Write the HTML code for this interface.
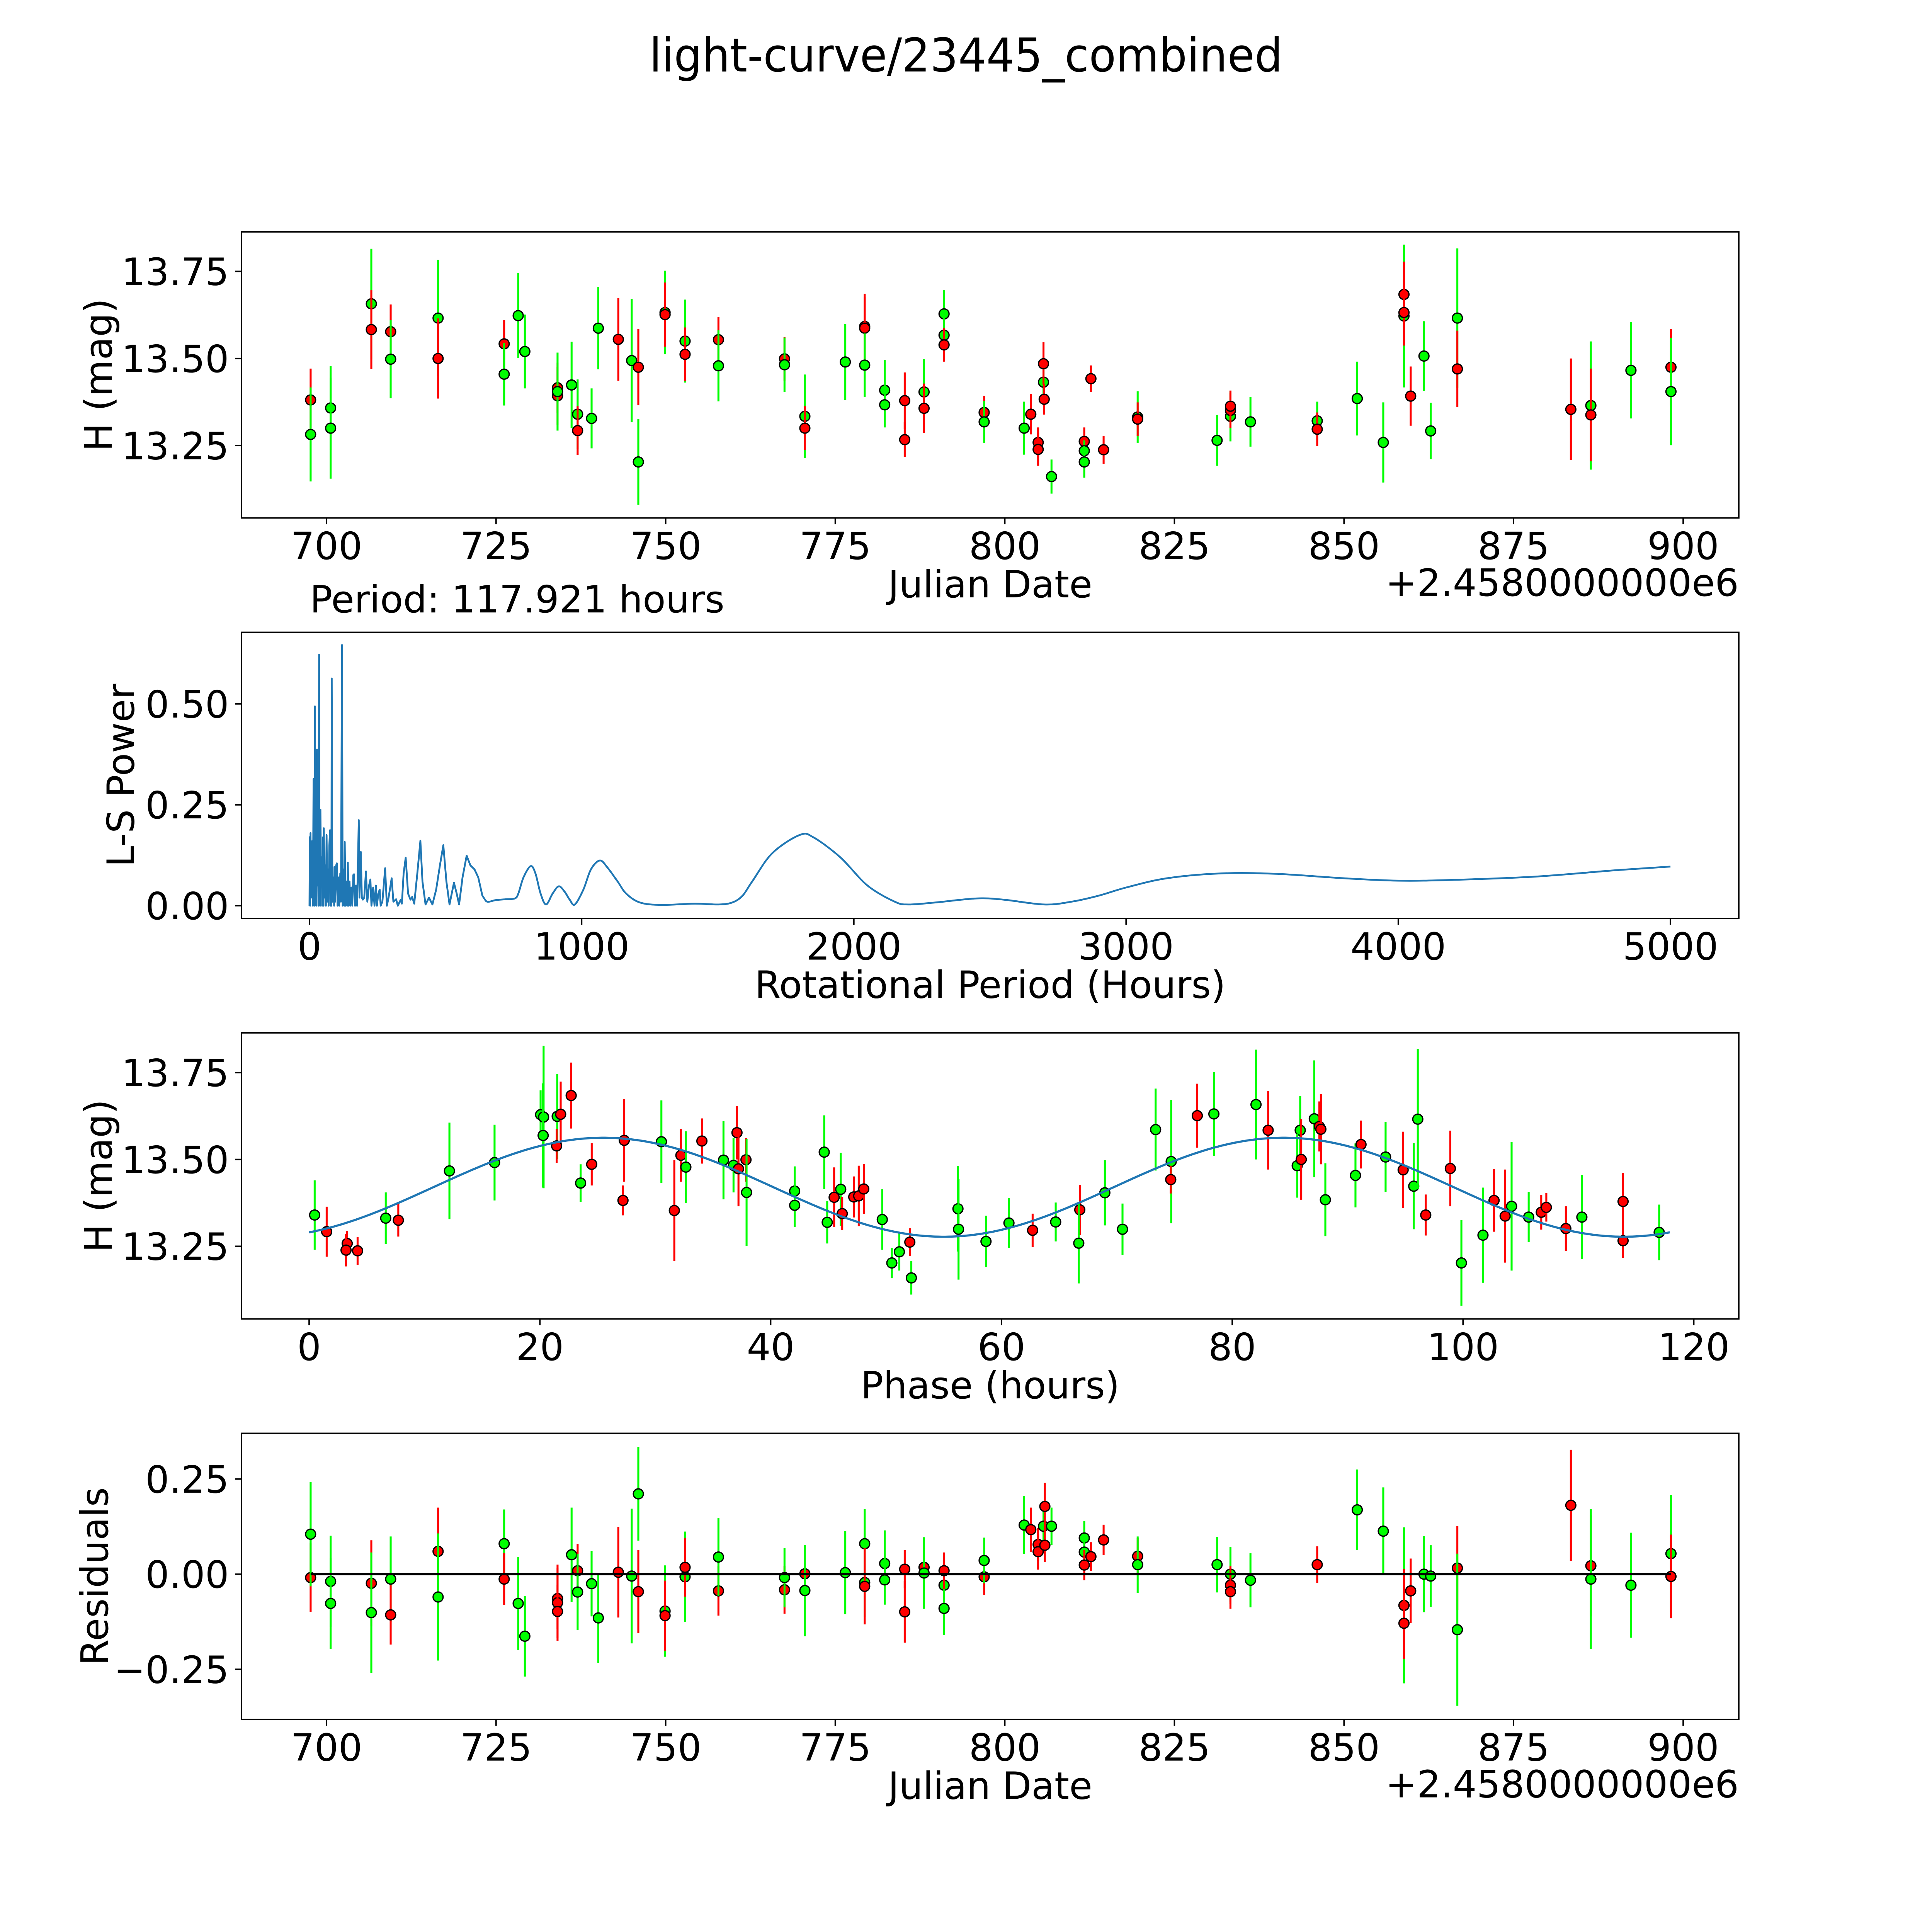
<!DOCTYPE html>
<html><head><meta charset="utf-8"><title>light-curve/23445_combined</title>
<style>html,body{margin:0;padding:0;background:#fff;overflow:hidden;width:100%;height:100%}svg{display:block;width:100vw;height:100vh}text{font-family:"DejaVu Sans","Liberation Sans",sans-serif;fill:#000}</style>
</head><body>
<svg id="fig" xmlns="http://www.w3.org/2000/svg" viewBox="0 0 5400 5400" preserveAspectRatio="none">
<rect width="5400" height="5400" fill="#fff"/>
<text x="2700" y="200" font-size="130" text-anchor="middle" textLength="1770" lengthAdjust="spacingAndGlyphs">light-curve/23445_combined</text>
</svg>
<script>
// ---------- data: light curve ----------
const lcDate=[697.66,697.66,700.61,700.61,706.61,706.61,709.46,709.46,716.45,716.45,726.19,726.19,728.26,729.24,734.06,734.06,734.06,736.13,737.02,737.02,739.08,740.07,743.02,744.99,745.97,745.97,749.91,749.91,752.86,752.86,757.78,757.78,767.52,767.52,770.52,770.52,776.48,779.34,779.34,779.34,782.29,782.29,785.24,785.24,788.09,788.09,791.04,791.04,791.04,796.95,796.95,802.85,803.83,804.91,804.91,805.70,805.70,805.80,806.88,811.71,811.71,811.71,812.69,814.56,819.58,819.58,831.29,833.26,833.26,833.26,836.21,846.05,846.05,851.95,855.79,858.84,858.84,858.84,859.83,861.79,862.78,866.71,866.71,883.44,886.39,886.39,892.30,898.20,898.20];
const lcMag=[13.381,13.282,13.358,13.300,13.657,13.583,13.577,13.498,13.616,13.500,13.542,13.455,13.623,13.520,13.416,13.393,13.405,13.424,13.340,13.293,13.328,13.587,13.555,13.494,13.475,13.203,13.632,13.626,13.550,13.512,13.554,13.479,13.499,13.482,13.334,13.300,13.490,13.592,13.587,13.481,13.409,13.367,13.379,13.267,13.404,13.357,13.628,13.567,13.539,13.345,13.318,13.300,13.340,13.259,13.239,13.432,13.485,13.383,13.161,13.262,13.235,13.203,13.442,13.238,13.332,13.326,13.265,13.334,13.351,13.363,13.318,13.321,13.297,13.385,13.259,13.622,13.684,13.632,13.392,13.507,13.292,13.616,13.470,13.354,13.365,13.338,13.466,13.475,13.405];
const lcErr=[.09,.135,.12,.145,.158,.113,.078,.112,.167,.115,.068,.09,.122,.106,.072,.083,.112,.124,.1,.07,.086,.118,.119,.177,.109,.123,.12,.092,.119,.077,.065,.102,.063,.078,.12,.063,.109,.094,.09,.091,.087,.065,.081,.05,.094,.071,.068,.07,.048,.048,.06,.076,.058,.043,.047,.04,.062,.044,.049,.04,.03,.045,.038,.04,.074,.048,.073,.072,.05,.045,.071,.055,.048,.106,.115,.205,.094,.095,.085,.1,.081,.2,.11,.146,.184,.133,.138,.11,.154];
const lcBand=["r","g","g","g","g","r","r","g","g","r","r","g","g","g","r","r","g","g","g","r","g","g","r","g","r","g","g","r","g","r","r","g","r","g","g","r","g","r","r","g","g","g","r","r","g","r","g","g","r","r","g","g","r","r","r","g","r","r","g","r","g","g","r","r","g","r","g","g","r","r","g","g","r","g","g","g","r","r","r","g","g","g","r","r","g","r","g","r","g"];
// ---------- data: periodogram ----------
const lsPeriod=[0,1.3,2.5,3.8,6.3,10,12.6,15,16.4,17.6,18.9,20,21.4,23.9,25.2,27.7,28.9,31.4,32.7,35.2,36.5,39,40.3,42.8,45.3,46.5,50.3,51.6,52.8,55.3,57.9,60.4,62.9,65.4,67.9,70.4,73,75.5,78,79.2,80.5,81.8,84.3,88,90.6,91.8,94.3,98.1,100.6,103.1,106.9,109.4,113.2,115.7,119.5,122,125.8,128.3,129.6,132.1,135.8,138.4,140.9,143.4,147.2,149.7,153.5,157.2,161,163.5,167.3,171.1,174.8,181.1,183.6,188.7,192.5,196.2,201.3,207.5,212.6,218.9,223.9,227.7,234,239,244,247.8,252.8,257.9,261.6,267.9,278,284.3,290.6,301.9,308.2,318.2,324.5,334.6,339.6,345.9,353.5,362.3,371.1,377.4,384.9,396.2,407.5,415.1,426.4,439,451.6,465.4,479.2,491.8,503.1,514.5,530.8,540.9,549.7,562.3,577.4,591.2,606.3,620.1,635.2,647.8,660.4,685.5,723.3,754.7,767.3,786.2,812.6,830.2,849.1,869.2,893.1,915.7,937.1,956,974.8,1006.3,1034,1066.7,1094.3,1132.1,1163.5,1213.8,1289.3,1415.1,1503.1,1553.5,1591.2,1626.4,1700,1800,1850,1950,2050,2150,2200,2300,2450,2550,2700,2800,2900,3000,3150,3350,3550,3800,4000,4200,4500,4800,5000];
const lsPower=[0,0.17,0.0,0.18,0.02,0.16,0.0,0.314,0.02,0.1,0.0,0.494,0.03,0.2,0.0,0.387,0.05,0.15,0.0,0.622,0.02,0.0,0.238,0.05,0.12,0.0,0.17,0.0,0.192,0.02,0.1,0.0,0.175,0.01,0.09,0.0,0.15,0.187,0.0,0.1,0.0,0.563,0.01,0.07,0.0,0.096,0.01,0.1,0.105,0.0,0.07,0.0,0.08,0.01,0.646,0.0,0.09,0.0,0.158,0.0,0.06,0.0,0.107,0.0,0.06,0.0,0.045,0.0,0.076,0.078,0.0,0.05,0.0,0.212,0.02,0.133,0.02,0.015,0.02,0.085,0.01,0.05,0.065,0.0,0.045,0.0,0.05,0.0,0.03,0.04,0.0,0.01,0.093,0.0,0.02,0.068,0.01,0.016,0.0,0.014,0.005,0.08,0.119,0.03,0.015,0.022,0.005,0.08,0.161,0.06,0.003,0.02,0.003,0.04,0.1,0.15,0.06,0.003,0.057,0.03,0.003,0.07,0.124,0.1,0.09,0.07,0.025,0.012,0.01,0.014,0.016,0.018,0.03,0.07,0.098,0.08,0.03,0.003,0.03,0.048,0.035,0.015,0.003,0.04,0.09,0.112,0.095,0.06,0.03,0.008,0.002,0.005,0.003,0.008,0.025,0.06,0.13,0.175,0.17,0.12,0.05,0.01,0.003,0.008,0.018,0.015,0.003,0.01,0.025,0.045,0.068,0.08,0.079,0.068,0.062,0.064,0.072,0.088,0.097];
// ---------- data: phased ----------
const phPhase=[0.48,1.52,3.3,3.2,4.2,6.64,7.73,12.16,16.07,20.06,20.32,20.28,21.5,21.8,21.45,22.71,23.53,24.49,27.31,27.2,30.53,31.65,32.22,32.65,34.04,35.91,36.78,37.08,37.21,37.86,37.91,42.08,42.08,44.64,44.9,45.5,46.07,46.2,47.2,47.63,48.07,49.67,50.5,51.15,52.06,52.19,56.23,56.28,58.66,60.65,62.7,64.7,66.79,66.7,68.96,70.49,73.36,74.71,74.67,76.97,78.41,82.06,83.11,85.89,85.63,85.98,87.11,87.55,87.68,88.07,90.68,91.16,93.29,94.81,95.73,96.08,96.77,98.9,99.86,101.73,102.69,103.65,104.21,105.69,106.78,107.22,108.91,110.3,113.87,113.87,117.0];
const phMag=[13.34,13.292,13.258,13.239,13.237,13.331,13.325,13.467,13.491,13.629,13.622,13.569,13.624,13.63,13.539,13.684,13.432,13.486,13.555,13.382,13.551,13.353,13.512,13.478,13.553,13.498,13.483,13.577,13.473,13.499,13.405,13.409,13.368,13.521,13.319,13.391,13.414,13.344,13.392,13.395,13.415,13.327,13.202,13.234,13.262,13.159,13.358,13.299,13.264,13.317,13.296,13.32,13.355,13.259,13.404,13.299,13.586,13.494,13.442,13.626,13.631,13.658,13.584,13.584,13.482,13.5,13.617,13.595,13.587,13.384,13.454,13.543,13.507,13.47,13.423,13.616,13.34,13.474,13.202,13.282,13.382,13.337,13.365,13.334,13.348,13.362,13.301,13.334,13.379,13.266,13.29];
const phErr=[0.1,0.072,0.036,0.047,0.04,0.074,0.047,0.139,0.109,0.07,0.205,0.15,0.122,0.094,0.049,0.095,0.054,0.061,0.119,0.043,0.119,0.145,0.076,0.103,0.065,0.113,0.078,0.077,0.108,0.063,0.154,0.071,0.063,0.106,0.061,0.086,0.105,0.048,0.059,0.087,0.072,0.087,0.044,0.054,0.04,0.048,0.123,0.145,0.074,0.072,0.048,0.056,0.072,0.116,0.094,0.074,0.118,0.178,0.04,0.092,0.121,0.158,0.113,0.099,0.092,0.116,0.168,0.072,0.101,0.105,0.092,0.069,0.101,0.11,0.124,0.202,0.059,0.109,0.123,0.137,0.09,0.134,0.185,0.072,0.05,0.041,0.064,0.121,0.082,0.05,0.08];
const phBand=["g","r","r","r","r","g","r","g","g","g","g","g","g","r","r","r","g","r","r","r","g","r","r","g","r","g","g","r","r","r","g","g","g","g","g","r","g","r","r","r","r","g","g","g","r","g","g","g","g","g","r","g","r","g","g","g","g","g","r","r","g","g","r","g","g","r","g","r","r","g","g","r","g","r","g","g","r","r","g","g","r","r","g","g","r","r","r","g","r","r","g"];
const fitMean=13.42, fitAmp=0.1425, fitPeak=25.5, fitHalfPeriod=58.96, fitPeriod=117.921;
// ---------- data: residuals ----------
const resDate=[697.66,697.66,700.61,700.61,706.61,706.61,709.46,709.46,716.45,716.45,726.19,726.19,728.26,729.24,734.06,734.06,734.06,736.13,737.02,737.02,739.08,740.07,743.02,744.99,745.97,745.97,749.91,749.91,752.86,752.86,757.78,757.78,767.52,767.52,770.52,770.52,776.48,779.34,779.34,779.34,782.29,782.29,785.24,785.24,788.09,788.09,791.04,791.04,791.04,796.95,796.95,802.85,803.83,804.91,804.91,805.70,805.90,805.90,806.88,811.71,811.71,811.71,812.69,814.56,819.58,819.58,831.29,833.26,833.26,833.26,836.21,846.05,851.95,855.79,858.84,858.84,858.84,859.83,861.79,862.78,866.71,866.71,883.44,886.39,886.39,892.30,898.20,898.20];
const resVal=[-0.009,0.105,-0.019,-0.077,-0.024,-0.101,-0.013,-0.107,0.060,-0.060,0.080,-0.013,-0.077,-0.163,-0.064,-0.075,-0.098,0.051,0.009,-0.047,-0.025,-0.115,0.005,-0.005,-0.046,0.211,-0.097,-0.109,-0.007,0.018,-0.044,0.045,-0.041,-0.009,0.001,-0.043,0.004,0.080,-0.022,-0.032,0.028,-0.015,0.013,-0.099,0.018,0.003,-0.029,-0.090,0.009,-0.007,0.036,0.129,0.117,0.078,0.059,0.126,0.178,0.076,0.126,0.095,0.058,0.024,0.046,0.090,0.047,0.025,0.025,0,-0.029,-0.046,-0.016,0.025,0.169,0.113,-0.082,-0.082,-0.129,-0.044,0,-0.005,0.016,-0.146,0.181,0.022,-0.013,-0.029,0.054,-0.006];
const resErr=[.09,.137,.12,.12,.113,.158,.112,.078,.115,.167,.09,.068,.122,.106,.08,.1,.07,.124,.07,.1,.086,.118,.119,.177,.109,.123,.12,.092,.119,.077,.065,.102,.063,.078,.063,.12,.109,.091,.09,.1,.087,.065,.05,.081,.071,.094,.068,.07,.048,.048,.06,.076,.058,.043,.047,.04,.062,.044,.049,.045,.03,.04,.038,.04,.048,.074,.073,.072,.05,.045,.071,.048,.106,.115,.205,.095,.094,.085,.1,.081,.11,.2,.146,.133,.184,.138,.154,.11];
const resBand=["r","g","g","g","r","g","g","r","r","g","g","r","g","g","r","r","r","g","r","g","g","g","r","g","r","g","g","r","g","r","r","g","r","g","r","g","g","g","g","r","g","g","r","r","r","g","g","g","r","r","g","g","r","r","r","g","r","r","g","g","g","r","r","r","r","g","g","g","r","r","g","r","g","g","g","r","r","r","g","g","r","g","r","r","g","g","g","r"];
const jdTicks=[700,725,750,775,800,825,850,875,900];
const magTicks=[13.25,13.5,13.75], magTickLabels=["13.25","13.50","13.75"];
const lsXTicks=[0,1000,2000,3000,4000,5000];
const lsYTicks=[0,0.25,0.5], lsYTickLabels=["0.00","0.25","0.50"];
const phTicks=[0,20,40,60,80,100,120];
const resTicks=[-0.25,0,0.25], resTickLabels=["\u22120.25","0.00","0.25"];

const NS="http://www.w3.org/2000/svg";
const svg=document.getElementById('fig');
function el(tag,attrs,parent,txt){const e=document.createElementNS(NS,tag);for(const k in attrs)e.setAttribute(k,attrs[k]);if(txt!==undefined)e.textContent=txt;(parent||svg).appendChild(e);return e;}
const COL={r:"#ff0000",g:"#00ff00"};
const FS=105;
function makeAxis(name,top,xmin,xmax,ymin,ymax){
  const L=675,R=4860,H=799.6,B=top+H;
  const g=el('g',{});
  
  
  return {g,L,R,top,B,
    x:v=>L+(v-xmin)/(xmax-xmin)*(R-L),
    y:v=>B-(v-ymin)/(ymax-ymin)*H};
}
function frame(ax,xt,xtl,yt,ytl,xlabel,ylabel,ylabelX,offset){
  const f=el('rect',{x:ax.L,y:ax.top,width:ax.R-ax.L,height:ax.B-ax.top,fill:'none',stroke:'#000','stroke-width':4},ax.g);
  
  
  xt.forEach((v,i)=>{const px=ax.x(v);
    const t=el('line',{x1:px,x2:px,y1:ax.B,y2:ax.B+17.5,stroke:'#000','stroke-width':4},ax.g);
    
    
    const lb=el('text',{x:px,y:ax.B+115,'font-size':FS,'text-anchor':'middle'},ax.g,xtl[i]);
    
    });
  yt.forEach((v,i)=>{const py=ax.y(v);
    const t=el('line',{x1:ax.L-17.5,x2:ax.L,y1:py,y2:py,stroke:'#000','stroke-width':4},ax.g);
    
    
    const lb=el('text',{x:ax.L-35,y:py+38,'font-size':FS,'text-anchor':'end'},ax.g,ytl[i]);
    
    });
  const xl=el('text',{x:(ax.L+ax.R)/2,y:ax.B+222,'font-size':FS,'text-anchor':'middle'},ax.g,xlabel);
  
  
  const cy=(ax.top+ax.B)/2;
  const yl=el('text',{x:ylabelX,y:cy,'font-size':FS,'text-anchor':'middle','dominant-baseline':'central',transform:`rotate(-90 ${ylabelX} ${cy})`},ax.g,ylabel);
  
  
  if(offset){const o=el('text',{x:ax.R,y:ax.B+218,'font-size':FS,'text-anchor':'end'},ax.g,offset);
    
    }
}
function points(ax,xs,ys,es,bs,prefix){
  xs.forEach((v,i)=>{const px=ax.x(v),c=COL[bs[i]];
    const grp=el('g',{},ax.g);
    
    
    el('line',{x1:px,x2:px,y1:ax.y(ys[i]+es[i]),y2:ax.y(ys[i]-es[i]),stroke:c,'stroke-width':5.5},grp);
    el('circle',{cx:px,cy:ax.y(ys[i]),r:14,fill:c,stroke:'#000','stroke-width':3.5},grp);});
}
// Panel 1
const a1=makeAxis('light-curve-panel',648,687.47,908.2,13.0423,13.8636);
frame(a1,jdTicks,jdTicks.map(String),magTicks,magTickLabels,'Julian Date','H (mag)',276,'+2.4580000000e6');
points(a1,lcDate,lcMag,lcErr,lcBand,'lc');
// Panel 2
const a2=makeAxis('periodogram-panel',1767.4,-249.7,5251,-0.0315,0.6774);
frame(a2,lsXTicks,lsXTicks.map(String),lsYTicks,lsYTickLabels,'Rotational Period (Hours)','L-S Power',338,null);
const P=lsPeriod.map((p,i)=>[a2.x(p),a2.y(lsPower[i])]);
let ld='M'+P[0][0].toFixed(1)+','+P[0][1].toFixed(1);
for(let i=1;i<P.length;i++){
  if(lsPeriod[i]>650 && i+1<P.length){
    const p0=P[i-2]||P[i-1],p1=P[i-1],p2=P[i],p3=P[i+1];
    const c1=[p1[0]+(p2[0]-p0[0])/6,p1[1]+(p2[1]-p0[1])/6],c2=[p2[0]-(p3[0]-p1[0])/6,p2[1]-(p3[1]-p1[1])/6];
    ld+=`C${c1[0].toFixed(1)},${c1[1].toFixed(1)} ${c2[0].toFixed(1)},${c2[1].toFixed(1)} ${p2[0].toFixed(1)},${p2[1].toFixed(1)}`;
  } else ld+='L'+P[i][0].toFixed(1)+','+P[i][1].toFixed(1);
}
const lsPath=el('path',{d:ld,fill:'none',stroke:'#1f77b4','stroke-width':5,'stroke-linejoin':'round'},a2.g);


const pt=el('text',{x:866,y:1712,'font-size':FS},svg,'Period: '+fitPeriod.toFixed(3)+' hours');


// Panel 3
const a3=makeAxis('phased-panel',2886.8,-5.86,123.9,13.0409,13.8645);
frame(a3,phTicks,phTicks.map(String),magTicks,magTickLabels,'Phase (hours)','H (mag)',276,null);
points(a3,phPhase,phMag,phErr,phBand,'phase');
let fd='';for(let i=0;i<=400;i++){const p=fitPeriod*i/400;const m=fitMean+fitAmp*Math.cos(2*Math.PI*(p-fitPeak)/fitHalfPeriod);fd+=(i?'L':'M')+a3.x(p).toFixed(1)+','+a3.y(m).toFixed(1);}
const fit=el('path',{d:fd,fill:'none',stroke:'#1f77b4','stroke-width':6},a3.g);


// Panel 4
const a4=makeAxis('residuals-panel',4006.2,687.47,908.2,-0.3817,0.3701);
frame(a4,jdTicks,jdTicks.map(String),resTicks,resTickLabels,'Julian Date','Residuals',265,'+2.4580000000e6');
points(a4,resDate,resVal,resErr,resBand,'residual');
const zl=el('line',{x1:a4.x(Math.min(...resDate)),x2:a4.x(Math.max(...resDate)),y1:a4.y(0),y2:a4.y(0),stroke:'#000','stroke-width':6},a4.g);


</script>
</body></html>
